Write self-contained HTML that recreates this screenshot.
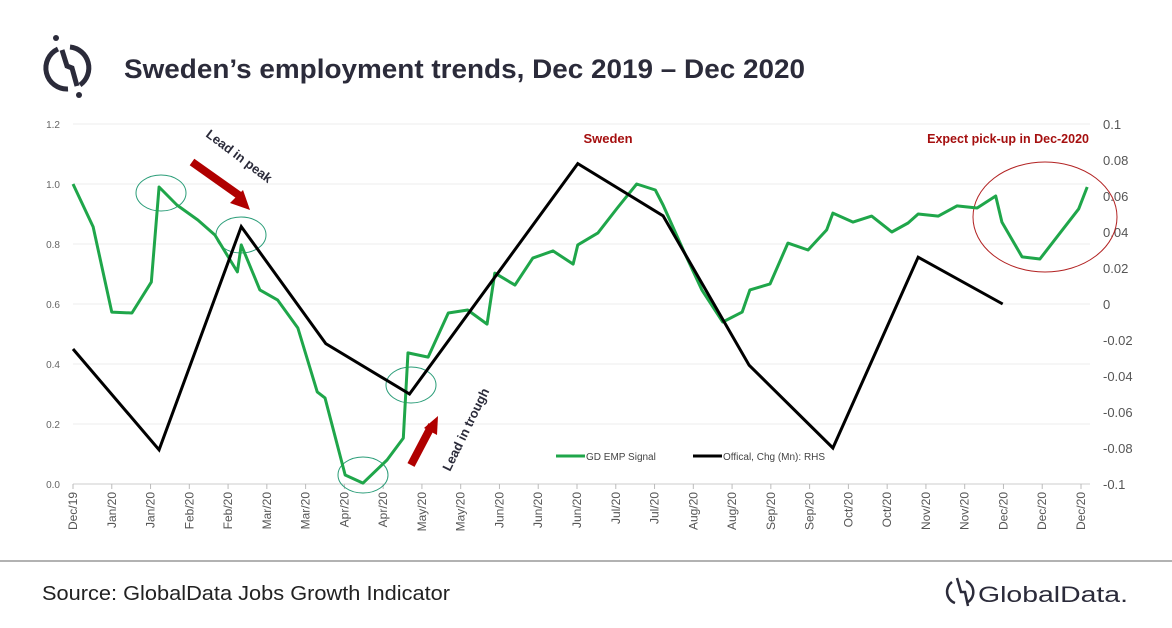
<!DOCTYPE html>
<html><head><meta charset="utf-8"><style>
html,body{margin:0;padding:0;background:#fff;}
svg{display:block;font-family:"Liberation Sans",sans-serif;}
</style></head><body>
<svg id="chart" width="1172" height="628" viewBox="0 0 1172 628">
<g>
<path d="M58 49 A21 21 0 0 0 68 89" fill="none" stroke="#2b2b3a" stroke-width="5"/>
<path d="M70 47 A21 21 0 0 1 80 85" fill="none" stroke="#2b2b3a" stroke-width="5"/>
<path d="M62 50 L67 66 L72 68 L77 86" fill="none" stroke="#2b2b3a" stroke-width="5"/>
<circle cx="56" cy="38" r="3" fill="#2b2b3a"/><circle cx="79" cy="95" r="3" fill="#2b2b3a"/>
</g>
<text x="124" y="78" font-size="27" font-weight="bold" fill="#2b2b3a" textLength="681" lengthAdjust="spacingAndGlyphs">Sweden’s employment trends, Dec 2019 – Dec 2020</text>
<g id="grid"></g><g id="axes"></g>
<g id="ann">
<ellipse cx="161" cy="193" rx="25" ry="18" fill="none" stroke="#2a9d78" stroke-width="1"/>
<ellipse cx="241" cy="235" rx="25" ry="18" fill="none" stroke="#2a9d78" stroke-width="1"/>
<ellipse cx="363" cy="475" rx="25" ry="18" fill="none" stroke="#2a9d78" stroke-width="1"/>
<ellipse cx="411" cy="385" rx="25" ry="18" fill="none" stroke="#2a9d78" stroke-width="1"/>
<ellipse cx="1045" cy="217" rx="72" ry="55" fill="none" stroke="#b22222" stroke-width="1"/>
<path d="M192 162 L240 196" stroke="#b00000" stroke-width="8"/><path d="M250 210 L230 203 L243 190 Z" fill="#b00000"/>
<path d="M411 465 L432 425" stroke="#b00000" stroke-width="8"/><path d="M438 416 L437 435 L424 428 Z" fill="#b00000"/>
<text x="0" y="0" font-size="13" font-weight="bold" fill="#2b2b3a" transform="translate(205,136) rotate(37)">Lead in peak</text>
<text x="0" y="0" font-size="13" font-weight="bold" fill="#2b2b3a" transform="translate(450,472) rotate(-64)">Lead in trough</text>
<text x="608" y="143" font-size="13" font-weight="bold" fill="#a50f0f" text-anchor="middle">Sweden</text>
<text x="1089" y="143" font-size="12.5" font-weight="bold" fill="#a50f0f" text-anchor="end">Expect pick-up in Dec-2020</text>
</g>
<g id="series"></g>
<g>
<line x1="556" y1="456" x2="585" y2="456" stroke="#1fa64a" stroke-width="3"/>
<text x="586" y="460" font-size="10" fill="#444">GD EMP Signal</text>
<line x1="693" y1="456" x2="722" y2="456" stroke="#000" stroke-width="3"/>
<text x="723" y="460" font-size="10" fill="#444">Offical, Chg (Mn): RHS</text>
</g>
<line x1="0" y1="561" x2="1172" y2="561" stroke="#999" stroke-width="1.5"/>
<text x="42" y="600" font-size="20" fill="#222" textLength="408" lengthAdjust="spacingAndGlyphs">Source: GlobalData Jobs Growth Indicator</text>
<g>
<path d="M952 582 A12 12 0 0 0 955 603" fill="none" stroke="#2b2b3a" stroke-width="2.5"/>
<path d="M966 581 A12 12 0 0 1 968 602" fill="none" stroke="#2b2b3a" stroke-width="2.5"/>
<path d="M957 578 L961 592 L965 592 L968 606" fill="none" stroke="#2b2b3a" stroke-width="2.5"/>
<text x="978" y="602" font-size="22" fill="#2b2b3a" textLength="150" lengthAdjust="spacingAndGlyphs">GlobalData.</text>
</g>
</svg>
<script>
const tickLabels=["Dec/19","Jan/20","Jan/20","Feb/20","Feb/20","Mar/20","Mar/20","Apr/20","Apr/20","May/20","May/20","Jun/20","Jun/20","Jun/20","Jul/20","Jul/20","Aug/20","Aug/20","Sep/20","Sep/20","Oct/20","Oct/20","Nov/20","Nov/20","Dec/20","Dec/20","Dec/20"];
const leftTicks=[0,0.2,0.4,0.6,0.8,1.0,1.2];
const rightTicks=[-0.1,-0.08,-0.06,-0.04,-0.02,0,0.02,0.04,0.06,0.08,0.1];
const greenMonths=[0,0.26,0.5,0.76,1.01,1.11,1.34,1.61,1.83,2.12,2.17,2.41,2.64,2.9,3.15,3.25,3.51,3.74,4.05,4.26,4.32,4.58,4.84,5.09,5.34,5.44,5.7,5.93,6.19,6.45,6.51,6.77,7.02,7.27,7.51,7.61,7.87,8.11,8.38,8.63,8.73,8.99,9.22,9.48,9.72,9.8,10.06,10.3,10.56,10.77,10.9,11.16,11.4,11.66,11.9,11.98,12.24,12.47,12.73,12.97,13.08];
const greenValues=[1.0,0.857,0.573,0.57,0.673,0.99,0.93,0.88,0.83,0.707,0.797,0.647,0.613,0.52,0.307,0.287,0.03,0.003,0.08,0.153,0.437,0.423,0.57,0.58,0.533,0.703,0.663,0.753,0.777,0.733,0.797,0.837,0.92,1.0,0.98,0.93,0.78,0.647,0.54,0.573,0.647,0.667,0.803,0.78,0.847,0.903,0.873,0.893,0.84,0.87,0.9,0.893,0.927,0.92,0.96,0.873,0.757,0.75,0.837,0.917,0.99];
const officialMonths=[0,1.11,2.17,3.26,4.34,6.51,7.61,8.72,9.8,10.9,11.99];
const officialValues=[-0.025,-0.081,0.043,-0.022,-0.05,0.078,0.049,-0.034,-0.08,0.026,0];
const X0=73,X1=1081,YT=124,YB=484;
const xT=m=>X0+(X1-X0)*m/13;
const xI=i=>X0+(X1-X0)*i/(tickLabels.length-1);
const yL=v=>YB-(YB-YT)*v/1.2;
const yR=v=>YB-(YB-YT)*(v+0.1)/0.2;
const NS="http://www.w3.org/2000/svg";
function mk(tag,attrs,parent){const e=document.createElementNS(NS,tag);for(const k in attrs)e.setAttribute(k,attrs[k]);parent.appendChild(e);return e;}
const grid=document.getElementById('grid'),axes=document.getElementById('axes'),series=document.getElementById('series');
leftTicks.forEach(v=>{
 const g=mk('line',{x1:X0,x2:1090,y1:yL(v),y2:yL(v),stroke:v===0?'#ccc':'#eee','stroke-width':1},grid);
 
 
 const t=mk('text',{x:60,y:yL(v)+4,'font-size':10,fill:'#666','text-anchor':'end'},axes);
 t.textContent=v.toFixed(1);
 
 
});
rightTicks.forEach(v=>{
 const t=mk('text',{x:1103,y:yR(v)+5,'font-size':13,fill:'#555'},axes);
 t.textContent=Math.abs(v)<1e-9?'0':String(+v.toFixed(2));
 
 
});
tickLabels.forEach((l,i)=>{
 const x=xI(i);
 const tk=mk('line',{x1:x,x2:x,y1:YB,y2:YB+5,stroke:'#bbb'},axes);
 
 
 const t=mk('text',{x:0,y:0,'font-size':12,fill:'#555','text-anchor':'end',transform:`translate(${x+4},${YB+8}) rotate(-90)`},axes);
 t.textContent=l;
 
 
});
const gp=mk('polyline',{points:greenMonths.map((m,i)=>xT(m)+','+yL(greenValues[i])).join(' '),fill:'none',stroke:'#1fa64a','stroke-width':3,'stroke-linejoin':'round'},series);


const bp=mk('polyline',{points:officialMonths.map((m,i)=>xT(m)+','+yR(officialValues[i])).join(' '),fill:'none',stroke:'#000','stroke-width':3,'stroke-linejoin':'miter'},series);


</script>
</body></html>
